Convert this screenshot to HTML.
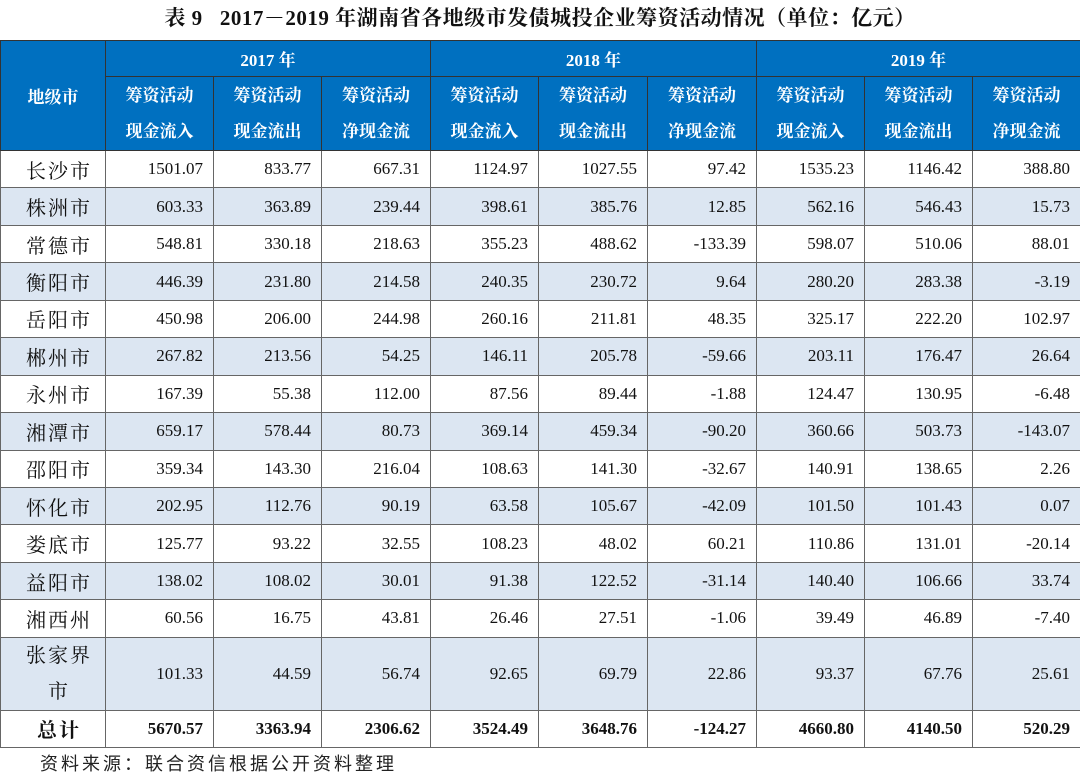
<!DOCTYPE html>
<html><head><meta charset="utf-8"><style>
body{margin:0;width:1080px;height:777px;background:#fff;position:relative;overflow:hidden;font-family:"Liberation Serif","Noto Serif CJK SC",serif;color:#111}
.title{position:absolute;top:2px;left:0;width:1080px;text-align:center;font-size:21px;font-weight:bold;font-family:"Liberation Serif","Noto Serif CJK SC",serif;letter-spacing:0.5px}
table{position:absolute;top:40px;left:0;width:1080px;border-collapse:collapse;table-layout:fixed}
td{border:1.5px solid #666;padding:0;font-size:17px;text-align:right;padding-right:10px}
td.c{text-align:center;padding:0 0 0 12px;font-size:20px;letter-spacing:2px}
tr.h td{background:#0070C0;color:#fff;text-align:center;padding:0;font-size:17px;font-weight:bold;border-color:#333}
tr.h td.sub{line-height:36px}
tr.alt td{background:#DCE6F2}
tr.d td{height:36.45px}
tr.t td{font-weight:bold;height:36px}
.src{position:absolute;top:750px;left:40px;font-size:18px;letter-spacing:3px;font-family:"Liberation Sans","Noto Sans CJK SC",sans-serif;color:#222}
</style></head><body>
<div class="title">表 9&nbsp;&nbsp;&nbsp;2017－2019 年湖南省各地级市发债城投企业筹资活动情况（单位：亿元）</div>
<table>
<colgroup><col style="width:105px"><col style="width:108px"><col style="width:108px"><col style="width:109px"><col style="width:108px"><col style="width:109px"><col style="width:109px"><col style="width:108px"><col style="width:108px"><col style="width:108px"></colgroup>
<tr class="h" style="height:36px"><td rowspan="2">地级市</td><td colspan="3">2017 年</td><td colspan="3">2018 年</td><td colspan="3">2019 年</td></tr>
<tr class="h" style="height:74px"><td class="sub">筹资活动<br>现金流入</td><td class="sub">筹资活动<br>现金流出</td><td class="sub">筹资活动<br>净现金流</td><td class="sub">筹资活动<br>现金流入</td><td class="sub">筹资活动<br>现金流出</td><td class="sub">筹资活动<br>净现金流</td><td class="sub">筹资活动<br>现金流入</td><td class="sub">筹资活动<br>现金流出</td><td class="sub">筹资活动<br>净现金流</td></tr>
<tr class="d"><td class="c">长沙市</td><td>1501.07</td><td>833.77</td><td>667.31</td><td>1124.97</td><td>1027.55</td><td>97.42</td><td>1535.23</td><td>1146.42</td><td>388.80</td></tr>
<tr class="d alt"><td class="c">株洲市</td><td>603.33</td><td>363.89</td><td>239.44</td><td>398.61</td><td>385.76</td><td>12.85</td><td>562.16</td><td>546.43</td><td>15.73</td></tr>
<tr class="d"><td class="c">常德市</td><td>548.81</td><td>330.18</td><td>218.63</td><td>355.23</td><td>488.62</td><td>-133.39</td><td>598.07</td><td>510.06</td><td>88.01</td></tr>
<tr class="d alt"><td class="c">衡阳市</td><td>446.39</td><td>231.80</td><td>214.58</td><td>240.35</td><td>230.72</td><td>9.64</td><td>280.20</td><td>283.38</td><td>-3.19</td></tr>
<tr class="d"><td class="c">岳阳市</td><td>450.98</td><td>206.00</td><td>244.98</td><td>260.16</td><td>211.81</td><td>48.35</td><td>325.17</td><td>222.20</td><td>102.97</td></tr>
<tr class="d alt"><td class="c">郴州市</td><td>267.82</td><td>213.56</td><td>54.25</td><td>146.11</td><td>205.78</td><td>-59.66</td><td>203.11</td><td>176.47</td><td>26.64</td></tr>
<tr class="d"><td class="c">永州市</td><td>167.39</td><td>55.38</td><td>112.00</td><td>87.56</td><td>89.44</td><td>-1.88</td><td>124.47</td><td>130.95</td><td>-6.48</td></tr>
<tr class="d alt"><td class="c">湘潭市</td><td>659.17</td><td>578.44</td><td>80.73</td><td>369.14</td><td>459.34</td><td>-90.20</td><td>360.66</td><td>503.73</td><td>-143.07</td></tr>
<tr class="d"><td class="c">邵阳市</td><td>359.34</td><td>143.30</td><td>216.04</td><td>108.63</td><td>141.30</td><td>-32.67</td><td>140.91</td><td>138.65</td><td>2.26</td></tr>
<tr class="d alt"><td class="c">怀化市</td><td>202.95</td><td>112.76</td><td>90.19</td><td>63.58</td><td>105.67</td><td>-42.09</td><td>101.50</td><td>101.43</td><td>0.07</td></tr>
<tr class="d"><td class="c">娄底市</td><td>125.77</td><td>93.22</td><td>32.55</td><td>108.23</td><td>48.02</td><td>60.21</td><td>110.86</td><td>131.01</td><td>-20.14</td></tr>
<tr class="d alt"><td class="c">益阳市</td><td>138.02</td><td>108.02</td><td>30.01</td><td>91.38</td><td>122.52</td><td>-31.14</td><td>140.40</td><td>106.66</td><td>33.74</td></tr>
<tr class="d"><td class="c">湘西州</td><td>60.56</td><td>16.75</td><td>43.81</td><td>26.46</td><td>27.51</td><td>-1.06</td><td>39.49</td><td>46.89</td><td>-7.40</td></tr>
<tr class="alt" style="height:71px"><td class="c" style="line-height:36px">张家界<br>市</td><td>101.33</td><td>44.59</td><td>56.74</td><td>92.65</td><td>69.79</td><td>22.86</td><td>93.37</td><td>67.76</td><td>25.61</td></tr>
<tr class="t"><td class="c" style="font-weight:bold">总计</td><td>5670.57</td><td>3363.94</td><td>2306.62</td><td>3524.49</td><td>3648.76</td><td>-124.27</td><td>4660.80</td><td>4140.50</td><td>520.29</td></tr>
</table>
<div class="src">资料来源：联合资信根据公开资料整理</div>
</body></html>
